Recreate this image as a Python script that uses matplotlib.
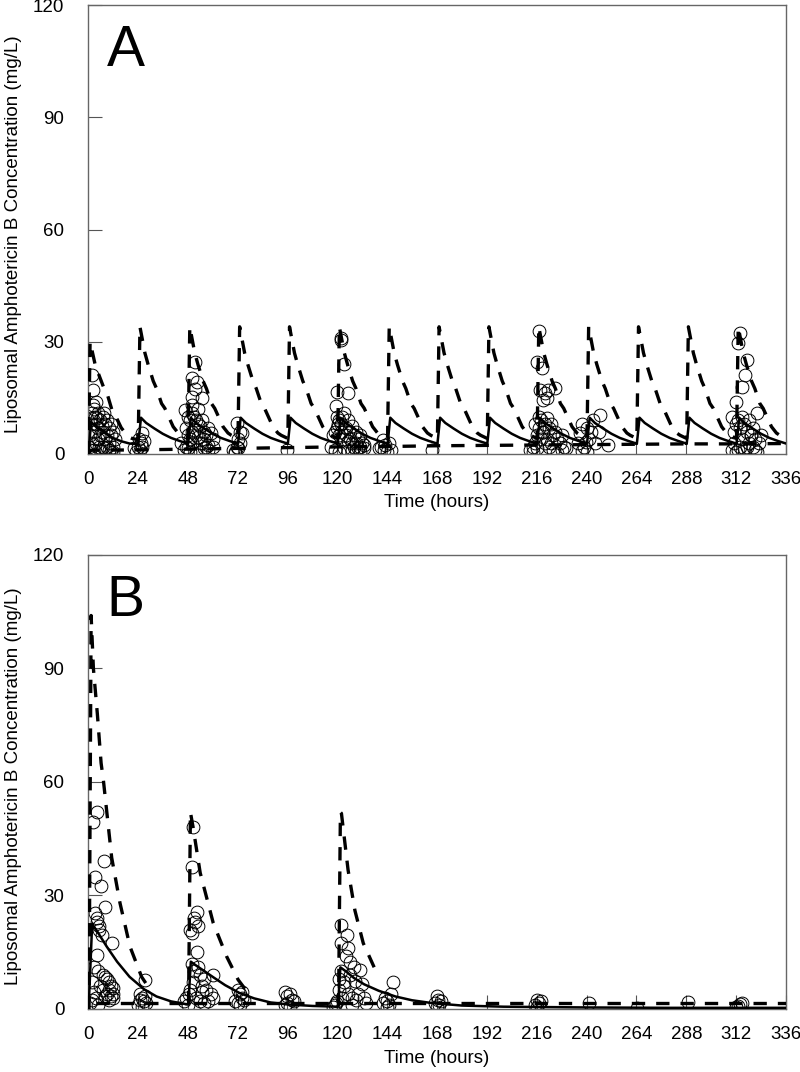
import numpy as np
import matplotlib
matplotlib.use("Agg")
import matplotlib.pyplot as plt

plt.rcParams['font.family'] = ['Liberation Sans', 'DejaVu Sans']

# ---------------- Panel A data ----------------
A_doses = [0, 24, 48, 72, 96, 120, 144, 168, 192, 216, 240, 264, 288, 312]
A_end = 336
# median (solid) profile per dosing cycle (offset hours, mg/L)
A_med_off = [0, 0.2, 1.5, 4, 8, 12, 16, 20, 24]
A_med_first = [0, 0, 8.5, 7.2, 5.7, 4.3, 3.4, 2.8, 2.6]
A_med_cycle = [2.7, 2.7, 9.7, 8.3, 6.8, 5.4, 4.3, 3.5, 2.8]
# upper percentile (dashed) profile per cycle
A_up_off = [0, 0.2, 1.0, 3.4, 5, 7.4, 9, 11.4, 13, 16, 17, 19.4, 21, 24]
A_up_first = [0, 0, 30, 24, 21.5, 18, 16.5, 12, 10.5, 7, 6.3, 4.6, 4.2, 3.8]
A_up_cycle = [4.2, 4.2, 34, 27, 23.8, 19.5, 17.5, 13.5, 12.2, 8.5, 7.3, 5.6, 5.0, 4.2]
# lower percentile (dashed)
A_low_t = [0, 1.5, 24, 48, 72, 96, 120, 144, 168, 192, 216, 240, 264, 288, 312, 336]
A_low_c = [0, 1.0, 1.1, 1.3, 1.5, 1.7, 1.9, 2.0, 2.2, 2.3, 2.4, 2.5, 2.6, 2.7, 2.7, 2.8]

# observed (circles)
A_obs_t = [0.5, 1, 1, 1.5, 2, 2, 2.5, 3, 3, 3, 3.5, 4, 4, 4, 5, 5, 5, 5.5, 6, 6, 6, 7, 7, 7, 8, 8, 8, 9, 9, 9,
           10, 10, 10, 11, 11, 11, 12, 12, 12, 13, 2, 2.5, 1.5, 4.5, 6.5, 7.5,
           22, 23, 24, 24.5, 25, 25.5, 26, 26, 27,
           51.5, 50, 52.3, 51.5, 50, 54.7, 46.7, 48, 49, 50, 51, 52, 53, 54, 55, 56, 57, 58, 59, 60, 47, 48, 49,
           50, 51, 52, 53, 54, 55, 56, 57, 58, 46, 47, 48, 49, 50, 52, 54, 56, 58, 60, 45, 50, 53,
           70, 71, 71.5, 72, 72, 73, 73, 74, 71.6, 71,
           95.6,
           121.8, 121.8, 123, 119.7, 125.3, 119.4, 120, 121, 122, 123, 124, 125, 126, 127, 128, 129, 130, 131, 132,
           133, 118, 119, 120, 121, 122, 123, 124, 125, 126, 127, 128, 129, 130, 131, 117, 119, 121, 123, 125, 127,
           129, 131, 133, 120.5, 122.5,
           140, 141, 142, 142.5, 143, 144, 145, 146,
           165.4,
           217.3, 216, 218.4, 217.6, 220, 221.6, 224.8, 220.8, 219.2, 213, 214, 215, 216, 217, 218, 219, 220, 221,
           222, 223, 224, 225, 226, 227, 228, 229, 230, 214, 216, 218, 220, 222, 224, 226, 228, 215, 217, 219, 221, 223,
           236, 237, 238, 238, 239, 239.7, 240, 240, 241, 242, 243, 244, 246.5, 246, 250.5,
           313.9, 313, 317, 316.3, 314.7, 312, 310, 311, 312, 313, 314, 315, 316, 317, 318, 319, 320, 321, 322, 323,
           324, 310, 312, 314, 316, 318, 320, 322, 311, 313, 315, 317, 319, 321]
A_obs_c = [2, 5, 1, 8, 21, 3, 17, 12, 6, 1, 10, 14, 8, 3, 11, 7, 4, 2, 9, 5, 1, 10, 6, 2, 8, 4, 1.5, 9, 5, 2,
           7, 3, 1, 8, 5, 0.5, 6, 2, 0.5, 4, 11, 13, 9.5, 9.5, 7.5, 11,
           1.5, 0.5, 2, 4, 1, 3, 5.5, 2, 3.5,
           24.5, 20.3, 19.3, 17.5, 15.3, 15, 11.8, 10, 9, 11, 10, 9, 8, 7.5, 9, 6, 5, 7, 5.5, 4, 7, 5, 4,
           6, 6.5, 5, 4.5, 3, 3, 4, 2, 2.5, 1, 2, 1.5, 0.5, 3, 1, 0.5, 1.5, 1, 2, 3, 13, 12,
           1, 0.5, 2, 1.5, 4, 3, 6, 5.5, 8.3, 0.3,
           1,
           31, 30.5, 24, 16.6, 16.2, 12.7, 10, 9, 8, 11, 7, 9, 6, 7.5, 5, 6, 4, 5, 3,
           2.5, 5, 6, 7, 5, 6, 4, 5, 3.5, 4, 3, 2, 3, 1.5, 2, 2, 1, 0.5, 1.5, 0.8, 1.2,
           1, 0.5, 1.5, 8, 10,
           1.5, 2, 3.7, 1, 2.5, 0.5, 3, 1,
           1,
           33, 24.7, 23, 17.1, 16.2, 17.1, 17.6, 14.9, 14.4, 1, 2, 3, 5, 7, 9, 6, 8, 9.5,
           7, 8, 5, 6, 4, 3, 5, 2, 1.5, 0.5, 1.5, 4, 3, 2, 1, 0.3, 1, 8, 10, 6, 4, 3,
           3, 5.6, 0.9, 8, 2, 3.2, 0.5, 7, 4, 6, 9.1, 3, 10.4, 6, 2.3,
           32.3, 29.8, 25, 21, 18, 14, 10, 6, 8, 9, 7, 10, 8, 6, 9, 5, 7, 4, 11, 3,
           5, 1, 0.5, 2, 1.5, 3, 2, 0.5, 3, 1, 4, 2, 5, 1]

# ---------------- Panel B data ----------------
B_med_t = [0, 0.3, 2, 5, 9, 14, 20, 27, 33, 40, 48, 48.3, 49.5, 52, 56, 60, 66, 73, 80, 88, 96, 108, 120,
           120.3, 121.5, 124, 128, 133, 140, 148, 156, 165, 180, 200, 240, 280, 336]
B_med_c = [0, 0, 22.5, 20, 16.5, 12.5, 8.5, 5.2, 3.3, 2.0, 1.2, 1.2, 12.5, 11.5, 10, 8.5, 6.3, 4.2, 2.8, 1.7, 1.2,
           0.8, 0.6, 0.6, 11, 10, 8.2, 6.5, 4.8, 3.3, 2.3, 1.6, 0.9, 0.6, 0.4, 0.3, 0.3]
B_up_t = [0.3, 0.5, 1.5, 2.6, 4.5, 6.3, 7.4, 11.4, 15.4, 20.2, 25.8, 30, np.nan,
          48, 48.4, 49.3, 50.6, 54, 60.3, 66.8, 72.3, 76, np.nan,
          120, 120.6, 121.5, 122, 125.2, 128.5, 132.5, 139]
B_up_c = [0, 0, 104, 90, 78, 65, 60.5, 40, 28, 16.5, 8.5, 5, np.nan,
          1.5, 1.5, 52, 48, 36, 22.7, 13.8, 7.7, 5, np.nan,
          1, 1, 52, 51.7, 36.7, 26, 17.4, 9.5]
B_low_t = [4, 336]
B_low_c = [1.6, 1.6]

B_obs_t = [4.2, 2.6, 7.7, 3.4, 6.1, 8.2, 3.4, 4.5, 5.5, 6.6, 11.4, 4.5, 3, 5, 7, 8, 9, 10, 11, 12, 2, 3, 4, 6, 7,
           8, 9, 10, 11, 12, 1, 2, 5, 10, 12, 4.5, 5.5,
           27.4, 25, 26, 27, 28, 24, 26, 25, 27.5,
           50.7, 49.9, 52.3, 51, 49, 50, 51.5, 53, 52.3, 50, 53, 54, 56, 60.3, 55, 57, 59, 52, 54, 56, 48, 47, 49,
           46, 58, 60, 48.5, 50.5, 51, 55,
           72, 73, 74, 71, 72, 73, 75, 74,
           95, 96, 97, 98, 96, 95, 99, 97,
           121.6, 124.5, 122, 125, 124, 126, 128, 131, 122, 126, 128.5, 132, 119, 120, 118, 121, 123, 125, 127,
           129, 130, 133, 134, 121, 123, 122.5, 127, 119.5,
           147, 143, 144, 145, 146, 142, 144,
           168, 168.5, 167, 169, 168, 170,
           216, 217, 215, 216, 218,
           241, 264.5, 289, 312, 313, 314, 315]
B_obs_c = [52, 49.5, 39, 35, 32.5, 27, 25.4, 23, 21, 19.6, 17.5, 14.3, 11, 10, 9, 8.5, 8, 7, 6, 5.5, 7, 4.5, 3, 6, 5,
           3.5, 4, 5, 3.5, 4, 1.5, 2.5, 1, 2.5, 3, 24, 22,
           7.7, 4, 3, 2, 1.5, 1, 0.5, 2.5, 3.5,
           48, 37.6, 25.7, 24, 21, 20, 23, 22, 15, 12, 11, 9, 8, 9, 6, 5, 4, 3, 2, 1.5, 1, 3, 5,
           2, 2, 3, 4, 7, 10, 4.5,
           5, 4, 3, 2, 1.5, 1, 2.5, 4.5,
           4.5, 3.5, 4, 2.5, 1.5, 1, 2, 0.5,
           22.2, 19.6, 17.4, 16, 14, 12.5, 11, 10.3, 10, 9, 7.5, 6.5, 1, 2, 0.5, 5, 6, 4, 3,
           2.5, 4, 3, 1.5, 8, 7, 3, 1, 1.5,
           7, 3, 2, 1, 4, 1.5, 0.5,
           3.5, 2.5, 1.5, 1, 0.5, 2,
           2.5, 1.5, 1, 0.5, 2,
           1.5, 0.3, 1.8, 0.5, 0.8, 1.2, 1.5]

x_ticks = list(range(0, 337, 24))
y_ticks = [0, 30, 60, 90, 120]
ylabel = "Liposomal Amphotericin B Concentration (mg/L)"
xlabel = "Time (hours)"


def cycles(doses, off, first, cyc):
    t, c = [], []
    for i, d in enumerate(doses):
        vals = first if i == 0 else cyc
        for o, v in zip(off, vals):
            t.append(d + o)
            c.append(v)
    return t, c


A_med_t, A_med_c = cycles(A_doses, A_med_off, A_med_first, A_med_cycle)
A_up_t, A_up_c = cycles(A_doses, A_up_off, A_up_first, A_up_cycle)

fig = plt.figure(figsize=(8, 10.72), dpi=100)
axA = fig.add_axes([0.11, 0.5765, 0.8725, 0.4188])
axB = fig.add_axes([0.11, 0.0588, 0.8725, 0.4235])

dash_kw = dict(color='black', lw=2.4, linestyle=(0, (4, 3.3)))
mk_kw = dict(linestyle='none', marker='o', markersize=9.2, markerfacecolor='none',
             markeredgecolor='black', markeredgewidth=0.7)


def style(ax, letter):
    ax.set_xlim(0, 336)
    ax.set_ylim(0, 120)
    ax.set_xticks(x_ticks)
    ax.set_yticks(y_ticks)
    ax.tick_params(direction='in', length=10, width=0.8, color='#555555', labelsize=13.5)
    ax.tick_params(axis='y', pad=17)
    ax.tick_params(axis='x', pad=12)
    for s in ax.spines.values():
        s.set_color('#666666')
        s.set_linewidth(1.0)
    ax.set_ylabel(ylabel, fontsize=13.5)
    ax.yaxis.set_label_coords(-0.095, 0.49)
    ax.set_xlabel(xlabel, fontsize=13.5)
    ax.xaxis.set_label_coords(0.5, -0.09)
    ax.text(0.027, 0.865, letter, transform=ax.transAxes, fontsize=41, va='baseline', ha='left')


axA.plot(A_obs_t, A_obs_c, **mk_kw, zorder=2)
axA.plot(A_med_t, A_med_c, color='black', lw=1.8, zorder=3)
axA.plot(A_up_t, A_up_c, **dash_kw, zorder=3)
axA.plot(A_low_t, A_low_c, **dash_kw, zorder=3)
style(axA, 'A')

axB.plot(B_obs_t, B_obs_c, **mk_kw, zorder=2)
axB.plot(B_med_t, B_med_c, color='black', lw=1.8, zorder=3)
axB.plot(B_up_t, B_up_c, **dash_kw, zorder=3)
axB.plot(B_low_t, B_low_c, **dash_kw, zorder=3)
style(axB, 'B')

fig.savefig('out.png', dpi=100)
